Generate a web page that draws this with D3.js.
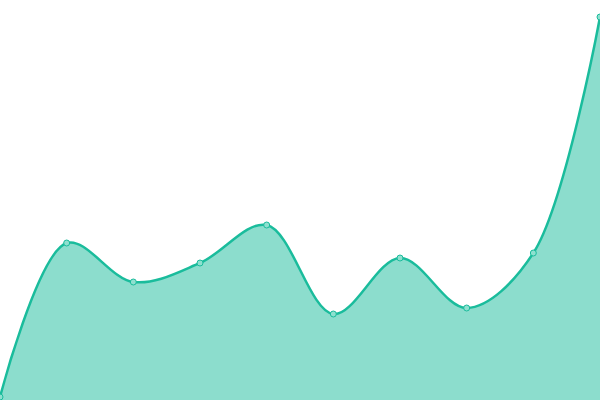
<!DOCTYPE html>
<html><head><meta charset="utf-8">
<script src="https://cdn.jsdelivr.net/npm/d3@7"></script>
<style>html,body{margin:0;padding:0;background:#fff;}svg{display:block;}</style>
</head><body>
<svg id="c" width="600" height="400"></svg>
<script>
const categories = [0,1,2,3,4,5,6,7,8,9];
const values = [3, 157, 118, 137, 175, 86, 142, 92, 147, 383];

const W = 600, H = 400;
const svg = d3.select("#c");
const x = d3.scaleLinear().domain([0, categories.length - 1]).range([0, W]);
const y = d3.scaleLinear().domain([0, 400]).range([H, 0]);
const data = categories.map((c, i) => ({c, v: values[i]}));
const curve = d3.curveCatmullRom.alpha(0.5);

svg.append("path").datum(data)
  .attr("d", d3.area().x(d => x(d.c)).y0(H).y1(d => y(d.v)).curve(curve))
  .attr("fill", "#1abc9c").attr("fill-opacity", 0.5);
svg.append("path").datum(data)
  .attr("d", d3.line().x(d => x(d.c)).y(d => y(d.v)).curve(curve))
  .attr("fill", "none").attr("stroke", "#1abc9c").attr("stroke-width", 2.5);
svg.selectAll("circle").data(data).join("circle")
  .attr("cx", d => x(d.c)).attr("cy", d => y(d.v)).attr("r", 3)
  .attr("fill", "#8ee0cf").attr("stroke", "#1abc9c").attr("stroke-width", 1);
</script>
</body></html>
